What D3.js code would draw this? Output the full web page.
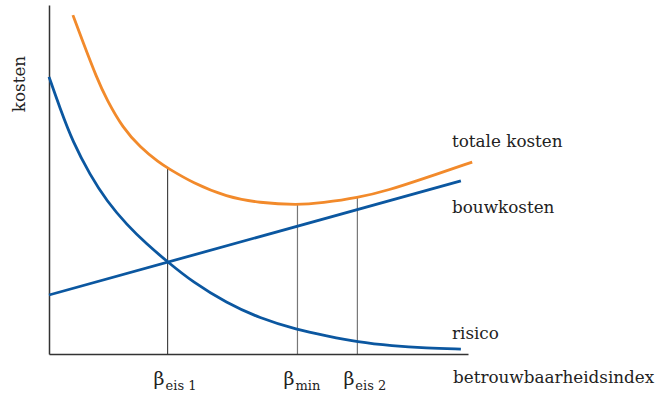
<!DOCTYPE html>
<html>
<head>
<meta charset="utf-8">
<script src="https://cdn.jsdelivr.net/npm/d3@7"></script>
<style>
  body { margin: 0; background: #fff; }
  text { font-family: "DejaVu Serif", serif; fill: #222; }
</style>
</head>
<body>
<script>
// values (x = reliability index, y = cost, both 0..10)
var risicoX = [0, 0.26, 0.57, 0.98, 1.38, 1.86, 2.33, 2.83, 3.43, 4.24, 5.02, 5.93, 6.62, 7.36, 8.19, 9.0, 9.83];
var risicoY = [7.94, 7.05, 6.07, 5.13, 4.38, 3.70, 3.15, 2.64, 2.06, 1.46, 1.03, 0.69, 0.52, 0.34, 0.23, 0.17, 0.14];

var bouwX = [0, 9.83];
var bouwY = [1.69, 4.96];

var totaalX = [0.57, 0.81, 1.14, 1.38, 1.76, 2.17, 2.64, 2.83, 3.43, 4.24, 5.02, 5.93, 6.52, 7.36, 8.12, 8.90, 10.1];
var totaalY = [9.71, 8.94, 7.91, 7.28, 6.48, 5.93, 5.47, 5.33, 4.90, 4.50, 4.33, 4.27, 4.33, 4.47, 4.70, 5.01, 5.50];

var markerX = [2.83, 5.93, 7.36];
var markerTop = [5.33, 4.27, 4.47];
var markerSub = ["eis 1", "min", "eis 2"];

var seriesNames = ["totale kosten", "bouwkosten", "risico"];

function init() {
    var w = 658;
    var h = 394;

    var xScale = d3.scaleLinear().domain([0, 10]).range([49, 468]);
    var yScale = d3.scaleLinear().domain([0, 10]).range([354, 5]);

    var svg = d3.select("body")
                .append("svg")
                .attr("width", w)
                .attr("height", h);

    // marker lines
    svg.selectAll("line.marker")
        .data(markerX)
        .enter()
        .append("line")
        .attr("class", "marker")
        .attr("x1", function (d) { return xScale(d); })
        .attr("x2", function (d) { return xScale(d); })
        .attr("y1", yScale(0))
        .attr("y2", function (d, i) { return yScale(markerTop[i]); })
        .attr("stroke", function (d, i) { return i === 0 ? "#444" : "#777"; })
        .attr("stroke-width", 1.2);

    // axes (domain lines only)
    svg.append("g")
        .attr("transform", "translate(0," + yScale(0) + ")")
        .call(d3.axisBottom(xScale).ticks(0).tickSizeOuter(0))
        .select(".domain").attr("stroke", "#333").attr("stroke-width", 1.5);
    svg.append("g")
        .attr("transform", "translate(" + xScale(0) + ",0)")
        .call(d3.axisLeft(yScale).ticks(0).tickSizeOuter(0))
        .select(".domain").attr("stroke", "#333").attr("stroke-width", 1.5);

    var line = d3.line()
        .x(function (d) { return xScale(d[0]); })
        .y(function (d) { return yScale(d[1]); })
        .curve(d3.curveBasis);

    var series = [
        { xs: totaalX, ys: totaalY, color: "#f28a2b" },
        { xs: bouwX, ys: bouwY, color: "#0b57a0" },
        { xs: risicoX, ys: risicoY, color: "#0b57a0" }
    ];

    svg.selectAll("path.series")
        .data(series)
        .enter()
        .append("path")
        .attr("class", "series")
        .attr("d", function (s) {
            return line(s.xs.map(function (x, i) { return [x, s.ys[i]]; }));
        })
        .attr("fill", "none")
        .attr("stroke", function (s) { return s.color; })
        .attr("stroke-width", 2.8);

    // series labels
    var labelY = [147, 213, 339];
    svg.selectAll("text.name")
        .data(seriesNames)
        .enter()
        .append("text")
        .attr("class", "name")
        .attr("x", 452)
        .attr("y", function (d, i) { return labelY[i]; })
        .style("font-size", "16.8px")
        .text(function (d) { return d; });

    // beta tick labels
    var ticks = svg.selectAll("text.tick")
        .data(markerX)
        .enter()
        .append("text")
        .attr("class", "tick")
        .attr("x", function (d) { return xScale(d) - 14; })
        .attr("y", 385)
        .style("font-size", "19px");
    ticks.append("tspan").text("\u03b2");
    ticks.append("tspan")
        .attr("dy", 5)
        .attr("dx", 1)
        .style("font-size", "13px")
        .text(function (d, i) { return markerSub[i]; });

    svg.append("text")
        .attr("x", 453)
        .attr("y", 383)
        .style("font-size", "16.8px")
        .text("betrouwbaarheidsindex");

    svg.append("text")
        .attr("transform", "translate(25,84) rotate(-90)")
        .attr("text-anchor", "middle")
        .style("font-size", "16.8px")
        .text("kosten");
}

window.onload = init;
</script>
</body>
</html>
